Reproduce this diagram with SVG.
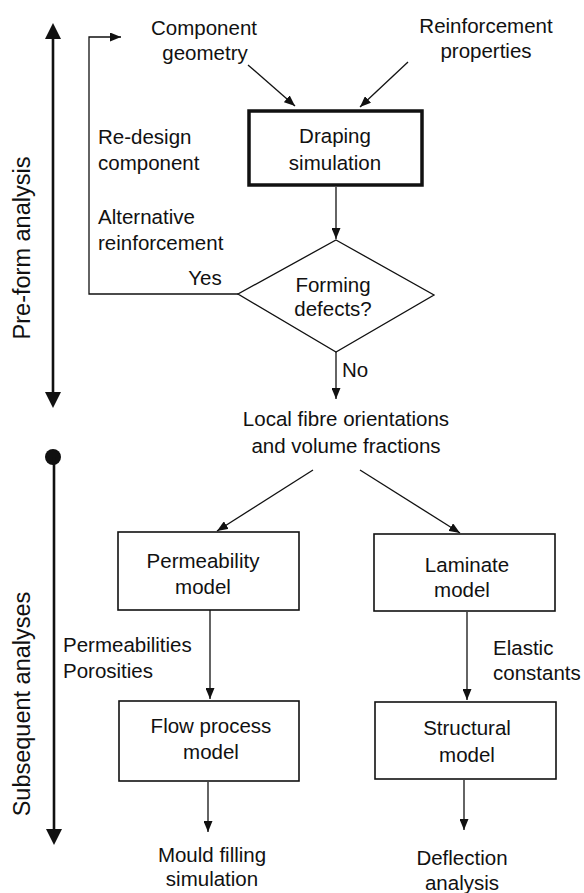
<svg xmlns="http://www.w3.org/2000/svg" width="584" height="893" viewBox="0 0 584 893">
<defs>
<style>
text{font-family:"Liberation Sans",Arial,sans-serif;font-size:20.5px;fill:#111}
.c{text-anchor:middle}
.ax{font-size:23.5px}
.box{fill:#fff;stroke:#111;stroke-width:1.6}
.thick{fill:#fff;stroke:#111;stroke-width:3.5}
.ln{fill:none;stroke:#111;stroke-width:1.3}
.axl{fill:none;stroke:#111;stroke-width:2.6}
</style>
<marker id="ah" markerUnits="userSpaceOnUse" markerWidth="11" markerHeight="9" refX="11" refY="4.5" orient="auto">
<path d="M0,0 L11,4.5 L0,9 z" fill="#111"/>
</marker>
</defs>
<rect width="584" height="893" fill="#fff"/>

<g id="axes">
<line class="axl" x1="53" y1="36" x2="53" y2="394"/>
<path d="M53,23 L61,39 L45,39 z" fill="#111"/>
<path d="M53,408 L61,392 L45,392 z" fill="#111"/>
<text class="ax c" transform="translate(30,248) rotate(-90)">Pre-form analysis</text>
<circle cx="53" cy="457" r="8" fill="#111"/>
<line class="axl" x1="54" y1="457" x2="54" y2="831"/>
<path d="M54,845 L62,829 L46,829 z" fill="#111"/>
<text class="ax c" transform="translate(30,704) rotate(-90)">Subsequent analyses</text>
</g>

<g id="connectors">
<line class="ln" x1="248" y1="65" x2="295" y2="106" marker-end="url(#ah)"/>
<line class="ln" x1="408" y1="62" x2="360" y2="107" marker-end="url(#ah)"/>
<line class="ln" x1="336" y1="187" x2="336" y2="239" marker-end="url(#ah)"/>
<polyline class="ln" points="238,294 89,294 89,37 121,37" marker-end="url(#ah)"/>
<line class="ln" x1="336" y1="352" x2="336" y2="399" marker-end="url(#ah)"/>
<line class="ln" x1="313" y1="470" x2="217" y2="531" marker-end="url(#ah)"/>
<line class="ln" x1="360" y1="470" x2="460" y2="533" marker-end="url(#ah)"/>
<line class="ln" x1="210" y1="610" x2="210" y2="699" marker-end="url(#ah)"/>
<line class="ln" x1="467" y1="612" x2="467" y2="700" marker-end="url(#ah)"/>
<line class="ln" x1="208" y1="782" x2="208" y2="832" marker-end="url(#ah)"/>
<line class="ln" x1="464" y1="780" x2="464" y2="830" marker-end="url(#ah)"/>
</g>

<g id="labels">
<text x="98" y="144">Re-design</text>
<text x="98" y="170">component</text>
<text x="98" y="224">Alternative</text>
<text x="98" y="250">reinforcement</text>
<text class="c" x="205" y="285">Yes</text>
<text x="342" y="377">No</text>
<text x="63" y="652">Permeabilities</text>
<text x="63" y="678">Porosities</text>
<text x="493" y="655">Elastic</text>
<text x="493" y="680">constants</text>
</g>

<g id="component-geometry">
<text class="c" x="204" y="35">Component</text>
<text class="c" x="205" y="60">geometry</text>
</g>

<g id="reinforcement-properties">
<text class="c" x="486" y="33">Reinforcement</text>
<text class="c" x="486" y="58">properties</text>
</g>

<g id="draping">
<rect class="thick" x="249" y="111" width="173" height="74"/>
<text class="c" x="335" y="143">Draping</text>
<text class="c" x="335" y="170">simulation</text>
</g>

<g id="forming-defects">
<polygon class="ln" points="336,240 434,295 336,352 238,294" fill="#fff"/>
<text class="c" x="333" y="292">Forming</text>
<text class="c" x="333" y="316">defects?</text>
</g>

<g id="local-fibre">
<text class="c" x="346" y="426">Local fibre orientations</text>
<text class="c" x="346" y="453">and volume fractions</text>
</g>

<g id="permeability">
<rect class="box" x="118" y="532" width="181" height="78"/>
<text class="c" x="203" y="568">Permeability</text>
<text class="c" x="203" y="594">model</text>
</g>

<g id="laminate">
<rect class="box" x="374" y="534" width="181" height="77"/>
<text class="c" x="467" y="572">Laminate</text>
<text class="c" x="462" y="597">model</text>
</g>

<g id="flow-process">
<rect class="box" x="119" y="701" width="180" height="80"/>
<text class="c" x="211" y="733">Flow process</text>
<text class="c" x="211" y="759">model</text>
</g>

<g id="structural">
<rect class="box" x="375" y="702" width="181" height="77"/>
<text class="c" x="467" y="735">Structural</text>
<text class="c" x="467" y="762">model</text>
</g>

<g id="mould-filling">
<text class="c" x="212" y="862">Mould filling</text>
<text class="c" x="212" y="886">simulation</text>
</g>

<g id="deflection">
<text class="c" x="462" y="865">Deflection</text>
<text class="c" x="462" y="890">analysis</text>
</g>
</svg>
